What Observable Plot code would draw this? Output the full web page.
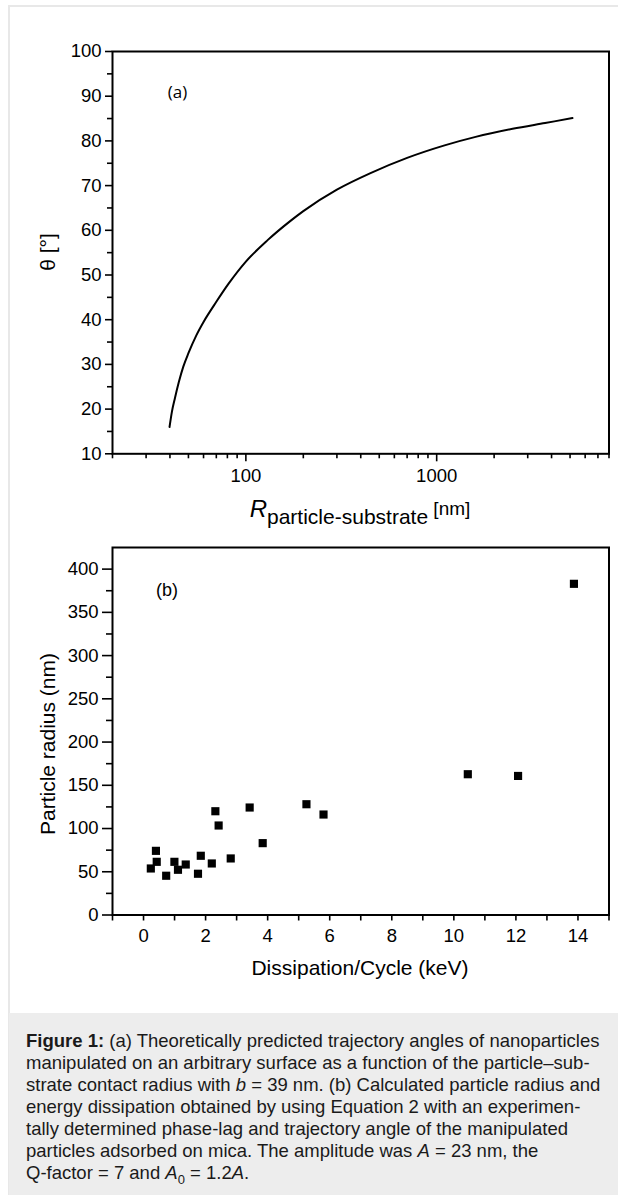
<!DOCTYPE html>
<html><head><meta charset="utf-8">
<script src="https://cdn.jsdelivr.net/npm/d3@7"></script>
<script src="https://cdn.jsdelivr.net/npm/@observablehq/plot@0.6"></script>
<style>
body{margin:0;background:#fff;}
#wrap{position:relative;width:618px;height:1195px;overflow:hidden;font-family:"Liberation Sans",Arial,sans-serif;}
#border{position:absolute;left:8px;top:5px;width:640px;height:1220px;border:2px solid #e8e8e8;box-sizing:border-box;}
#panelA{position:absolute;left:0;top:0;}
#panelB{position:absolute;left:0;top:520px;}
#caption{position:absolute;left:9px;top:1013px;width:620px;height:190px;background:#ededed;box-sizing:border-box;padding:17px 0 0 17px;font-size:18.5px;line-height:22px;color:#1a1a1a;white-space:nowrap;}
svg{overflow:visible;}
</style></head>
<body>
<div id="wrap">
  <div id="border"></div>
  <div id="panelA"></div>
  <div id="panelB"></div>
  <div id="caption"><b>Figure 1:</b> (a) Theoretically predicted trajectory angles of nanoparticles<br>manipulated on an arbitrary surface as a function of the particle–sub-<br>strate contact radius with <i>b</i> = 39 nm. (b) Calculated particle radius and<br>energy dissipation obtained by using Equation 2 with an experimen-<br>tally determined phase-lag and trajectory angle of the manipulated<br>particles adsorbed on mica. The amplitude was <i>A</i> = 23 nm, the<br>Q-factor = 7 and <i>A</i><sub style="font-size:13px;line-height:0">0</sub> = 1.2<i>A</i>.</div>
</div>
<script>
// ---- Panel (a) data: contact radius (nm) vs trajectory angle (deg)
const radiusNm = [39.8, 41, 42.5, 44.5, 47, 50, 55, 60, 70, 81, 100, 130, 170, 200, 300, 450, 700, 1100, 1600, 2500, 3700, 5150];
const thetaDeg = [16, 19.5, 22.5, 26, 29.5, 32.5, 36.5, 39.5, 44, 48, 53, 57.8, 62, 64.3, 69.1, 72.8, 76.2, 79, 80.9, 82.7, 84, 85.1];

// ---- Panel (b) data: dissipation per cycle (keV) vs particle radius (nm)
const dissipationKeV = [0.235, 0.40, 0.425, 0.73, 0.995, 1.11, 1.36, 1.755, 1.845, 2.20, 2.315, 2.42, 2.81, 3.42, 3.84, 5.25, 5.80, 10.45, 12.07, 13.87];
const particleRadiusNm = [53.8, 74.2, 61.5, 45.4, 61.5, 52.3, 58.4, 47.7, 68.5, 59.6, 120, 103.5, 65.4, 124.3, 83.1, 128.1, 116.2, 162.8, 160.8, 383];

// ---- Tick values
const aXMajor = [100, 1000];
const aXMinor = [20, 30, 40, 50, 60, 70, 80, 90, 200, 300, 400, 500, 600, 700, 800, 900, 2000, 3000, 4000, 5000, 6000, 7000, 8000];
const aYMajor = [10, 20, 30, 40, 50, 60, 70, 80, 90, 100];
const aYMinor = [15, 25, 35, 45, 55, 65, 75, 85, 95];
const bXMajor = [0, 2, 4, 6, 8, 10, 12, 14];
const bXMinor = [-1, 1, 3, 5, 7, 9, 11, 13, 15];
const bYMajor = [0, 50, 100, 150, 200, 250, 300, 350, 400];
const bYMinor = [25, 75, 125, 175, 225, 275, 325, 375];

const curveData = radiusNm.map((r, i) => ({r, t: thetaDeg[i]}));
const scatterData = dissipationKeV.map((e, i) => ({e, p: particleRadiusNm[i]}));

const FONT = "Liberation Sans, Arial, sans-serif";
const baseStyle = {fontFamily: FONT, fontSize: "18.5px", color: "#000", background: "transparent", overflow: "visible"};
const blank = () => "";

const plotA = Plot.plot({
  width: 618, height: 530,
  marginLeft: 112, marginRight: 9.5, marginTop: 51, marginBottom: 76.7,
  style: baseStyle,
  x: {type: "log", domain: [20, 8000]},
  y: {domain: [10, 100]},
  marks: [
    Plot.axisX(aXMajor, {tickSize: 8, tickPadding: 7, tickFormat: d => String(d), label: null, strokeWidth: 1.6}),
    Plot.axisX(aXMinor, {tickSize: 5, tickFormat: blank, label: null, strokeWidth: 1.6}),
    Plot.axisY(aYMajor, {tickSize: 7, tickPadding: 4, label: null, strokeWidth: 1.6}),
    Plot.axisY(aYMinor, {tickSize: 5, tickFormat: blank, label: null, strokeWidth: 1.6}),
    Plot.line(curveData, {x: "r", y: "t", curve: "monotone-x", stroke: "#000", strokeWidth: 2}),
    Plot.frame({stroke: "#000", strokeWidth: 2}),
    Plot.text(["(a)"], {frameAnchor: "top-left", dx: 65, dy: 41, textAnchor: "middle", lineAnchor: "middle", fontSize: 17, fontFamily: "Open Sans", fill: "#000"})
  ]
});
document.getElementById("panelA").append(plotA);

const plotB = Plot.plot({
  width: 618, height: 480,
  marginLeft: 112, marginRight: 9.5, marginTop: 27, marginBottom: 85.5,
  style: baseStyle,
  x: {domain: [-1, 15]},
  y: {domain: [0, 425]},
  marks: [
    Plot.axisX(bXMajor, {tickSize: 6, tickPadding: 8, label: null, strokeWidth: 1.6}),
    Plot.axisX(bXMinor, {tickSize: 6, tickFormat: blank, label: null, strokeWidth: 1.6}),
    Plot.axisY(bYMajor, {tickSize: 10, tickPadding: 4, label: null, strokeWidth: 1.6}),
    Plot.axisY(bYMinor, {tickSize: 6, tickFormat: blank, label: null, strokeWidth: 1.6}),
    Plot.dot(scatterData, {x: "e", y: "p", symbol: "square", r: 4.6, fill: "#000", stroke: "none"}),
    Plot.frame({stroke: "#000", strokeWidth: 2}),
    Plot.text(["(b)"], {frameAnchor: "top-left", dx: 54.5, dy: 43, textAnchor: "middle", lineAnchor: "middle", fontSize: 18, fill: "#000"})
  ]
});
document.getElementById("panelB").append(plotB);

// ---- Axis titles
const svgA = d3.select(plotA.tagName.toLowerCase() === "svg" ? plotA : plotA.querySelector("svg"));
svgA.append("text")
  .attr("transform", "translate(55,252) rotate(-90)")
  .attr("text-anchor", "middle").attr("font-family", FONT).attr("font-size", 21).attr("fill", "#000")
  .text("θ [°]");
const xt = svgA.append("text")
  .attr("x", 360).attr("y", 517).attr("text-anchor", "middle")
  .attr("font-family", FONT).attr("fill", "#000");
xt.append("tspan").attr("font-style", "italic").attr("font-size", 24).text("R");
xt.append("tspan").attr("font-size", 21).attr("dy", 6.5).text("particle-substrate");
xt.append("tspan").attr("font-size", 19).attr("dy", -9).text(" [nm]");

const svgB = d3.select(plotB.tagName.toLowerCase() === "svg" ? plotB : plotB.querySelector("svg"));
svgB.append("text")
  .attr("transform", "translate(55,224) rotate(-90)")
  .attr("text-anchor", "middle").attr("font-family", FONT).attr("font-size", 21).attr("fill", "#000")
  .text("Particle radius (nm)");
svgB.append("text")
  .attr("x", 360).attr("y", 455).attr("text-anchor", "middle")
  .attr("font-family", FONT).attr("font-size", 21).attr("fill", "#000")
  .text("Dissipation/Cycle (keV)");
</script>
</body></html>
